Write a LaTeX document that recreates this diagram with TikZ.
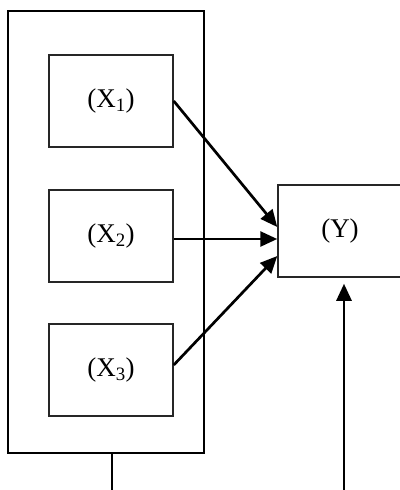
\documentclass[tikz,border=0pt]{standalone}
\usepackage{fontspec}
\setmainfont{Liberation Serif}
\usetikzlibrary{arrows.meta}
\begin{document}
\begin{tikzpicture}[x=1pt,y=-1pt,
  varbox/.style={draw=black!85,line width=1.5pt,minimum width=124pt,minimum height=92pt,
    inner sep=0pt,font=\fontsize{27}{31}\selectfont},
  groupbox/.style={draw=black,line width=2.2pt,minimum width=196pt,minimum height=442pt,inner sep=0pt},
  link/.style={line width=2.7pt,-{Triangle[length=17pt,width=15pt]}},
  plain/.style={line width=2.2pt}]
\useasboundingbox (0,0) rectangle (399,490);
% group frame around the three predictors
\node[groupbox] (grp) at (106,232) {};
% predictors
\node[varbox] (x1) at (111,101) {(X\textsubscript{1})};
\node[varbox] (x2) at (111,236) {(X\textsubscript{2})};
\node[varbox] (x3) at (111,370) {(X\textsubscript{3})};
% outcome
\node[varbox] (y) at (340,231) {(Y)};
% free ends at the lower edge
\coordinate (gout) at (112,490);
\coordinate (yin) at (344,490);
% connectors
\draw[link] (x1.east) -- ([yshift=4pt]y.west);
\draw[link] ([yshift=-3pt]x2.east) -- ([yshift=-8pt]y.west);
\draw[link] ([yshift=5pt]x3.east) -- ([yshift=-25pt]y.west);
\draw[plain] (grp.south -| gout) -- (gout);
\draw[link] (yin) -- ([yshift=-6pt]y.south -| yin);
\end{tikzpicture}
\end{document}
